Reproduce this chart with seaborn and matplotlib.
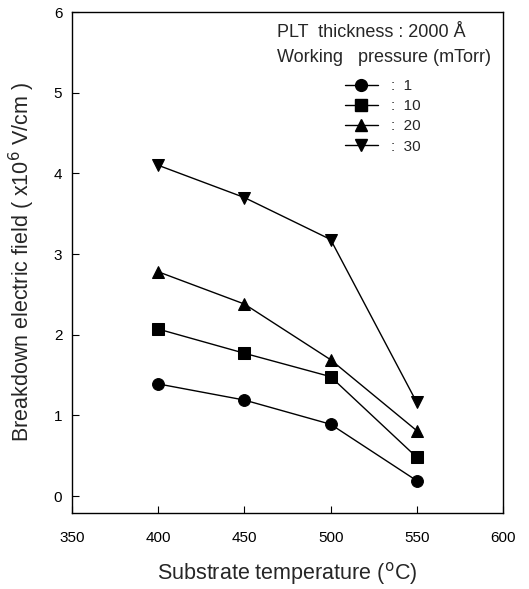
import pandas as pd
import matplotlib
matplotlib.use("Agg")
import matplotlib.pyplot as plt
from matplotlib.lines import Line2D
import seaborn as sns

# data
temperature = [400, 450, 500, 550]
pressures = ["1", "10", "20", "30"]
field_1 = [1.39, 1.19, 0.89, 0.19]
field_10 = [2.07, 1.77, 1.48, 0.48]
field_20 = [2.78, 2.38, 1.69, 0.81]
field_30 = [4.1, 3.7, 3.18, 1.16]

x_ticks = [350, 400, 450, 500, 550, 600]
y_ticks = [0, 1, 2, 3, 4, 5, 6]

sns.set_theme(style="ticks")
plt.rcParams["font.family"] = ["Liberation Sans", "DejaVu Sans"]

rows = []
for p, vals in zip(pressures, [field_1, field_10, field_20, field_30]):
    for t, v in zip(temperature, vals):
        rows.append({"temp": t, "field": v, "pressure": p})
df = pd.DataFrame(rows)

fig = plt.figure(figsize=(5.29, 5.89), dpi=100)
# axes box: x 72..503 px, y 12..513 px
ax = fig.add_axes([72 / 529, 76 / 589, 431 / 529, 501 / 589])

markers = {"1": "o", "10": "s", "20": "^", "30": "v"}
sns.lineplot(data=df, x="temp", y="field", style="pressure", markers=markers,
             dashes=False, color="black", linewidth=1.0, markersize=8.5,
             markeredgecolor="black", ax=ax, legend=False)

ax.set_xlim(350, 600)
ax.set_ylim(-0.21, 6)
ax.set_xticks(x_ticks)
ax.set_yticks(y_ticks)
ax.tick_params(direction="in", length=5, width=0.8, labelsize=11, colors="black")
ax.tick_params(axis="x", pad=13)
ax.tick_params(axis="y", pad=7)
for s in ax.spines.values():
    s.set_linewidth(1.0)
    s.set_color("black")

ax.set_xlabel("Substrate temperature ($^{\\rm o}$C)", fontsize=15.5, labelpad=11)
ax.set_ylabel("Breakdown electric field ( x10$^6$ V/cm )", fontsize=15.5, labelpad=12)

ax.text(0.476, 0.960, "PLT  thickness : 2000 Å", transform=ax.transAxes,
        fontsize=13, va="center", ha="left")
ax.text(0.476, 0.910, "Working   pressure (mTorr)", transform=ax.transAxes,
        fontsize=13, va="center", ha="left")

handles = [Line2D([], [], color="black", marker=markers[p], markersize=8.5, linewidth=1.0)
           for p in pressures]
ax.legend(handles, [":  " + p for p in pressures], loc="upper left",
          bbox_to_anchor=(0.615, 0.881), frameon=False, fontsize=11,
          handlelength=2.15, labelspacing=0.4, handletextpad=0.9, borderpad=0)

plt.savefig("out.png", dpi=100)
plt.close()
